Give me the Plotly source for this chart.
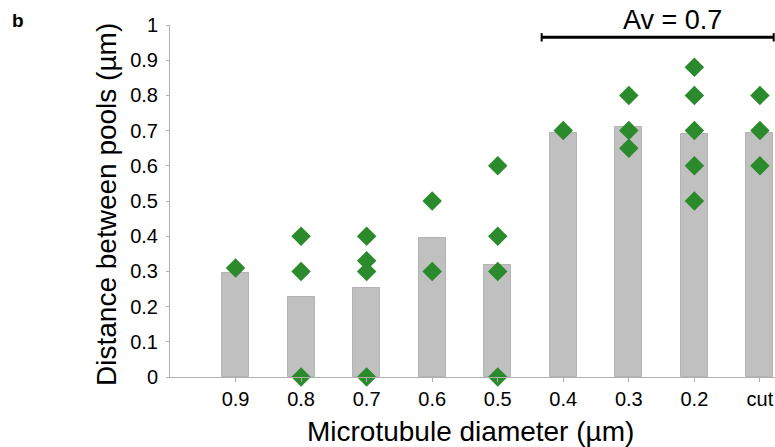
import plotly.graph_objects as go

categories = ["0.9", "0.8", "0.7", "0.6", "0.5", "0.4", "0.3", "0.2", "cut"]
bar_means = [0.295, 0.228, 0.252, 0.394, 0.319, 0.693, 0.710, 0.689, 0.693]
points = [
    [0.31],
    [0.4, 0.3, 0.0],
    [0.4, 0.33, 0.3, 0.0],
    [0.5, 0.3],
    [0.6, 0.4, 0.3, 0.0],
    [0.7],
    [0.8, 0.7, 0.65],
    [0.88, 0.8, 0.7, 0.6, 0.5],
    [0.8, 0.7, 0.6],
]
y_ticks = [0, 0.1, 0.2, 0.3, 0.4, 0.5, 0.6, 0.7, 0.8, 0.9, 1]
y_tick_labels = ["0", "0.1", "0.2", "0.3", "0.4", "0.5", "0.6", "0.7", "0.8", "0.9", "1"]
x_title = "Microtubule diameter (µm)"
y_title = "Distance between pools (µm)"
av_label = "Av = 0.7"
av_level = 0.965
av_start = 5.67
av_end = 9.21

FONT = "Liberation Sans, Arial"
xpos = list(range(1, len(categories) + 1))
px, py = [], []
for x, vals in zip(xpos, points):
    for v in vals:
        px.append(x)
        py.append(v)

fig = go.Figure()
fig.add_trace(go.Bar(x=xpos, y=bar_means, width=0.41,
                     marker=dict(color="#c0c0c0", line=dict(color="#b3b3b3", width=1)),
                     showlegend=False))
fig.add_trace(go.Scatter(x=px, y=py, mode="markers",
                         marker=dict(symbol="diamond", size=15, color="#2b8a2b", line=dict(width=0)),
                         cliponaxis=False, showlegend=False))
fig.add_trace(go.Scatter(x=[av_start, av_end], y=[av_level, av_level], mode="lines+markers",
                         line=dict(color="black", width=3),
                         marker=dict(symbol="line-ns", size=6, line=dict(color="black", width=2)),
                         cliponaxis=False, showlegend=False))

fig.add_annotation(x=(av_start + av_end) / 2 + 0.22, y=1.014, xref="x", yref="paper", text=av_label,
                   showarrow=False, xanchor="center", yanchor="middle",
                   font=dict(size=27, color="black", family=FONT))
fig.add_annotation(xref="paper", yref="paper", x=-0.251, y=1.014, text="<b>b</b>", showarrow=False,
                   xanchor="center", yanchor="middle",
                   font=dict(size=19, color="black", family=FONT))
fig.add_annotation(xref="paper", yref="paper", x=0.4975, y=-0.156, text=x_title, showarrow=False,
                   xanchor="center", yanchor="middle",
                   font=dict(size=28, color="black", family=FONT))
fig.add_annotation(xref="paper", yref="paper", x=-0.104, y=0.489, text=y_title, showarrow=False,
                   xanchor="center", yanchor="middle", textangle=-90,
                   font=dict(size=28, color="black", family=FONT))

fig.update_layout(
    width=775, height=447,
    margin=dict(l=170, r=0, t=25, b=70, autoexpand=False),
    plot_bgcolor="white", paper_bgcolor="white",
    font=dict(family=FONT, color="black"),
    bargap=0,
)
fig.update_xaxes(range=[0, 9.23], tickvals=xpos, ticktext=categories, automargin=False,
                 showline=True, linecolor="#b0b0b0", linewidth=1, showgrid=False, zeroline=False,
                 ticks="outside", ticklen=4, tickcolor="#b0b0b0", ticklabelstandoff=0,
                 tickfont=dict(size=20))
fig.update_yaxes(range=[0, 1], tickvals=y_ticks, ticktext=y_tick_labels, automargin=False,
                 showline=True, linecolor="#b0b0b0", linewidth=1, showgrid=False, zeroline=False,
                 ticks="outside", ticklen=3, tickcolor="#b0b0b0", ticklabelstandoff=4,
                 tickfont=dict(size=20))

fig.write_html("out.html", config={"displayModeBar": False},
               post_script="document.body.style.margin='0';")
